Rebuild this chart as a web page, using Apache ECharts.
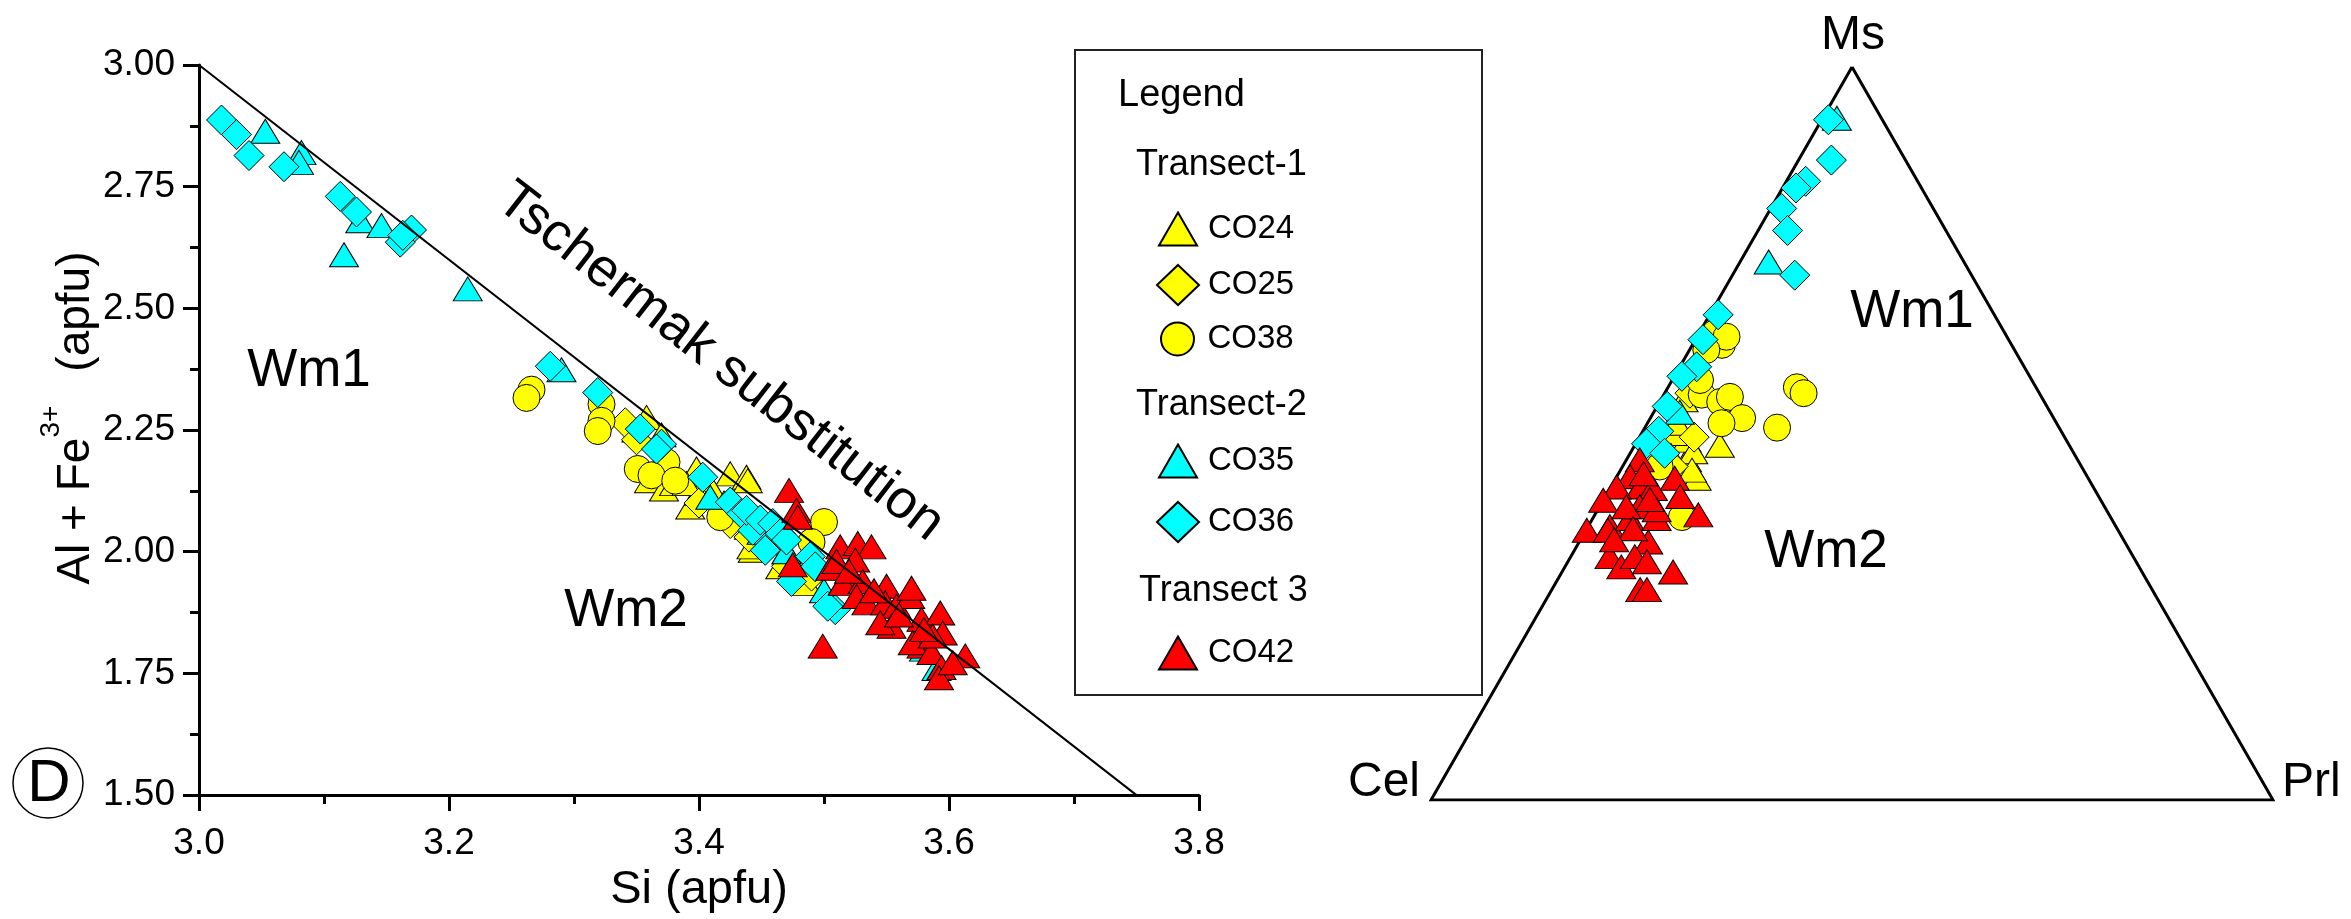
<!DOCTYPE html>
<html><head><meta charset="utf-8">
<script src="https://cdn.jsdelivr.net/npm/echarts@6/dist/echarts.min.js"></script>
<style>html,body{margin:0;padding:0;background:#fff}#c{width:2351px;height:919px}</style>
</head><body><div id="c"></div>
<script>
const FONT = "'Liberation Sans', Arial, Helvetica, sans-serif";

// ---------- Si (apfu) vs Al + Fe3+ (apfu) ----------
const co24 = [[3.358,2.276],[3.360,2.146],[3.372,2.129],[3.398,2.170],[3.425,2.160],[3.438,2.153],[3.393,2.092],[3.443,2.003],[3.439,2.146],[3.442,2.010],[3.486,1.935],[3.465,1.969],[3.380,2.140],[3.410,2.130],[3.420,2.100],[3.450,2.060],[3.400,2.120],[3.430,2.080],[3.460,2.020],[3.470,2.000],[3.350,2.250],[3.370,2.240],[3.390,2.140],[3.440,2.050]];
const co25 = [[3.341,2.265],[3.425,2.058],[3.350,2.230],[3.400,2.100],[3.440,2.030],[3.470,1.970],[3.490,1.950]];
const co38 = [[3.266,2.333],[3.262,2.316],[3.322,2.303],[3.322,2.269],[3.319,2.248],[3.374,2.184],[3.351,2.170],[3.362,2.157],[3.381,2.146],[3.417,2.071],[3.500,2.061],[3.490,2.020]];
const co35 = [[3.053,2.864],[3.082,2.820],[3.080,2.800],[3.129,2.680],[3.146,2.670],[3.116,2.610],[3.215,2.540],[3.290,2.374],[3.409,2.112],[3.450,2.040],[3.470,2.000],[3.500,1.920],[3.590,1.760],[3.580,1.800]];
const co36 = [[3.018,2.887],[3.030,2.857],[3.040,2.814],[3.068,2.791],[3.113,2.730],[3.126,2.698],[3.170,2.661],[3.161,2.636],[3.163,2.650],[3.281,2.381],[3.319,2.327],[3.353,2.252],[3.370,2.221],[3.366,2.211],[3.403,2.153],[3.425,2.102],[3.434,2.078],[3.443,2.044],[3.438,2.085],[3.449,2.065],[3.459,2.058],[3.465,2.037],[3.470,2.024],[3.489,1.990],[3.493,1.969],[3.474,1.939],[3.453,2.003],[3.509,1.881],[3.503,1.888]];
const co42 = [[3.472,2.126],[3.478,2.085],[3.479,2.071],[3.475,1.973],[3.505,1.966],[3.513,2.010],[3.527,2.017],[3.538,2.010],[3.525,1.983],[3.521,1.949],[3.515,1.935],[3.531,1.939],[3.550,1.929],[3.526,1.908],[3.534,1.895],[3.549,1.895],[3.558,1.888],[3.569,1.908],[3.570,1.925],[3.554,1.847],[3.545,1.854],[3.578,1.861],[3.593,1.874],[3.595,1.833],[3.578,1.806],[3.571,1.813],[3.586,1.793],[3.613,1.786],[3.594,1.762],[3.592,1.741],[3.499,1.806],[3.603,1.772],[3.587,1.827],[3.510,1.980],[3.540,1.920],[3.560,1.870],[3.520,1.960],[3.580,1.840]];
const tschermakLine = [[3.0,3.0],[3.75,1.5]];
const siMin = 3.0, siMax = 3.8, siStep = 0.2;
const alMin = 1.5, alMax = 3.0, alStep = 0.25;

// ---------- Ternary Ms - Cel - Prl (percent: [Ms, Cel, Prl]) ----------
const tCO24 = [[48.4,41.5,10.1],[43.9,46.5,9.6],[46.4,46.4,7.2],[49.1,45.1,5.8],[50.0,46.2,3.8],[51.4,45.1,3.5],[47.5,45.1,7.4],[54.6,42.7,2.7],[45.0,46.5,8.5],[47.0,48.0,5.0]];
const tCO25 = [[55.5,41.5,3.0],[49.5,44.0,6.5],[45.5,48.5,6.0]];
const tCO38 = [[63.7,34.4,1.9],[62.1,34.4,3.5],[63.2,33.3,3.5],[55.3,40.2,4.5],[54.3,38.5,7.2],[55.0,37.0,8.0],[52.1,37.0,10.9],[51.4,39.8,8.8],[50.8,33.5,15.7],[56.3,28.4,15.3],[55.5,28.0,16.5],[45.5,50.1,4.4],[38.6,50.9,10.5],[61.4,36.6,2.0],[57.3,39.4,3.3]];
const tCO35 = [[93.0,5.3,1.7],[73.4,23.2,3.4],[52.9,44.0,3.1],[49.0,48.8,2.2]];
const tCO36 = [[92.8,6.4,0.8],[87.3,8.8,3.9],[84.4,13.3,2.3],[83.5,14.9,1.6],[80.7,18.0,1.3],[77.7,18.8,3.5],[71.6,21.0,7.4],[66.2,32.8,1.0],[62.8,36.3,0.9],[59.1,38.9,2.0],[57.8,41.3,0.9],[53.7,45.1,1.2],[50.3,47.8,1.9],[48.6,50.1,1.3],[47.3,48.6,4.1]];
const tCO42 = [[46.4,52.0,1.6],[44.1,54.3,1.6],[42.7,53.8,3.5],[42.7,56.6,0.7],[42.5,52.4,5.1],[43.9,49.1,7.0],[41.4,49.7,8.9],[38.9,48.8,12.3],[40.9,59.1,0.0],[37.3,60.1,2.6],[38.4,57.2,4.4],[40.0,55.2,4.8],[38.4,54.0,7.6],[36.8,63.1,0.1],[36.8,60.6,2.6],[35.2,56.6,8.2],[33.2,62.2,4.6],[31.8,61.5,6.7],[33.2,59.2,7.6],[32.5,58.1,9.4],[31.1,55.7,13.2],[28.7,60.8,10.5],[28.7,60.0,11.3],[40.0,56.8,3.2],[39.6,53.4,7.0],[44.5,52.5,3.0],[41.0,53.5,5.5],[37.0,57.5,5.5],[35.5,60.5,4.0]];
const ternaryVertices = [[100,0,0],[0,100,0],[0,0,100],[100,0,0]];
const vertexNames = ['Ms','Cel','Prl'];

const SQ3 = Math.sqrt(3) / 2;
function tern(p) { const s = p[0] + p[1] + p[2]; const ms = p[0] / s, prl = p[2] / s; return [prl + ms / 2, ms * SQ3]; }

const YEL = '#FFFF00', CYA = '#00FFFF', RED = '#FF0000';
const seriesDefs = [
  {name:'CO24', d:co24, t:tCO24, symbol:'triangle', size:[29,24], color:YEL},
  {name:'CO25', d:co25, t:tCO25, symbol:'diamond',  size:[30,30], color:YEL},
  {name:'CO38', d:co38, t:tCO38, symbol:'circle',   size:27,     color:YEL},
  {name:'CO35', d:co35, t:tCO35, symbol:'triangle', size:[29,24], color:CYA},
  {name:'CO36', d:co36, t:tCO36, symbol:'diamond',  size:[30,30], color:CYA},
  {name:'CO42', d:co42, t:tCO42, symbol:'triangle', size:[29,24], color:RED}
];

const series = [];
seriesDefs.forEach(s => {
  series.push({type:'scatter', name:s.name, xAxisIndex:0, yAxisIndex:0, data:s.d, symbol:s.symbol, symbolSize:s.size,
    itemStyle:{color:s.color, borderColor:'#000', borderWidth:1, opacity:1}, z:2});
});
seriesDefs.forEach(s => {
  series.push({type:'scatter', name:s.name, xAxisIndex:1, yAxisIndex:1, data:s.t.map(tern), symbol:s.symbol, symbolSize:s.size,
    itemStyle:{color:s.color, borderColor:'#000', borderWidth:1, opacity:1}, z:2});
});
series.push({type:'line', xAxisIndex:0, yAxisIndex:0, data:tschermakLine, showSymbol:false, symbol:'none',
  lineStyle:{color:'#000', width:2}, z:5});
series.push({type:'line', xAxisIndex:1, yAxisIndex:1, data:ternaryVertices.map(tern), showSymbol:false, symbol:'none',
  lineStyle:{color:'#000', width:3, join:'miter'}, z:1});

// legend items (one legend per entry for exact spacing)
const legendItems = [
  {name:'CO24', w:38, h:33, cy:228, pad:6},
  {name:'CO25', w:42, h:40, cy:284, pad:4},
  {name:'CO38', w:34, h:33, cy:338, pad:8},
  {name:'CO35', w:38, h:33, cy:460, pad:6},
  {name:'CO36', w:42, h:40, cy:521, pad:4},
  {name:'CO42', w:38, h:33, cy:652, pad:6}
];
const legends = legendItems.map(it => ({
  data:[it.name], orient:'vertical', left:1177 - it.w/2, top:it.cy - it.h/2, itemWidth:it.w, itemHeight:it.h,
  selectedMode:false, padding:0,
  textStyle:{fontSize:33, fontFamily:FONT, color:'#000', padding:[0,0,0,it.pad]}
}));

const txt = (x, y, text, size, opts) => Object.assign({type:'text', x:x, y:y, silent:true,
  style:Object.assign({text:text, fontSize:size, fontFamily:FONT, fill:'#000', align:'center', verticalAlign:'middle',
    textAlign:'center', textVerticalAlign:'middle'}, (opts && opts.style) || {})}, (opts && opts.el) || {});

const graphic = [
  {type:'rect', shape:{x:1075, y:50, width:407, height:645}, style:{fill:'none', stroke:'#222', lineWidth:2}, silent:true},
  txt(1118, 96, 'Legend', 38, {style:{align:'left', textAlign:'left'}}),
  txt(1136, 165, 'Transect-1', 36, {style:{align:'left', textAlign:'left'}}),
  txt(1136, 405, 'Transect-2', 36, {style:{align:'left', textAlign:'left'}}),
  txt(1139, 591, 'Transect 3', 36, {style:{align:'left', textAlign:'left'}}),
  txt(309, 371, 'Wm1', 53),
  txt(626, 611, 'Wm2', 53),
  txt(720, 362, 'Tschermak substitution', 54, {el:{rotation:-37.8 * Math.PI / 180}}),
  {type:'circle', shape:{cx:48, cy:783, r:35}, style:{fill:'none', stroke:'#000', lineWidth:1.5}, silent:true},
  txt(49, 784, 'D', 60),
  txt(1853, 36, vertexNames[0], 48),
  txt(1420, 783, vertexNames[1], 48, {style:{align:'right', textAlign:'right'}}),
  txt(2282, 783, vertexNames[2], 48, {style:{align:'left', textAlign:'left'}}),
  txt(1912, 312, 'Wm1', 53),
  txt(1826, 552, 'Wm2', 53)
];

const axisCommon = {
  axisLine:{show:true, lineStyle:{color:'#000', width:3}},
  axisTick:{show:true, inside:false, length:16, lineStyle:{color:'#000', width:3}},
  minorTick:{show:true, splitNumber:2, length:9, lineStyle:{color:'#000', width:3}},
  splitLine:{show:false}, minorSplitLine:{show:false}
};

const option = {
  animation:false,
  backgroundColor:'#fff',
  grid:[
    {left:199, right:1152, top:65, bottom:119},
    {left:1431, right:78, top:67, bottom:119}
  ],
  xAxis:[
    Object.assign({type:'value', gridIndex:0, min:siMin, max:siMax, interval:siStep,
      name:'Si (apfu)', nameLocation:'middle', nameGap:68,
      nameTextStyle:{fontSize:47, fontFamily:FONT, color:'#000'},
      axisLabel:{fontSize:37, fontFamily:FONT, color:'#000', margin:30, formatter:v => v.toFixed(1)}}, axisCommon),
    {type:'value', gridIndex:1, min:0, max:1, show:false}
  ],
  yAxis:[
    Object.assign({type:'value', gridIndex:0, min:alMin, max:alMax, interval:alStep,
      name:'{a|Al + Fe}{s|3+}{b|(apfu)}', nameLocation:'middle', nameGap:100, nameRotate:90,
      nameTextStyle:{fontSize:46, fontFamily:FONT, color:'#000',
        rich:{
          a:{fontSize:46, fontFamily:FONT, color:'#000', verticalAlign:'bottom', padding:[0,0,0,24]},
          s:{fontSize:28, fontFamily:FONT, color:'#000', verticalAlign:'top', padding:[0,0,34,0]},
          b:{fontSize:46, fontFamily:FONT, color:'#000', verticalAlign:'bottom', padding:[0,0,0,34]}
        }},
      axisLabel:{fontSize:37, fontFamily:FONT, color:'#000', margin:24, formatter:v => v.toFixed(2)}}, axisCommon),
    {type:'value', gridIndex:1, min:0, max:SQ3, show:false}
  ],
  legend:legends,
  graphic:graphic,
  series:series
};

const chart = echarts.init(document.getElementById('c'));
chart.setOption(option);
</script>
</body></html>
